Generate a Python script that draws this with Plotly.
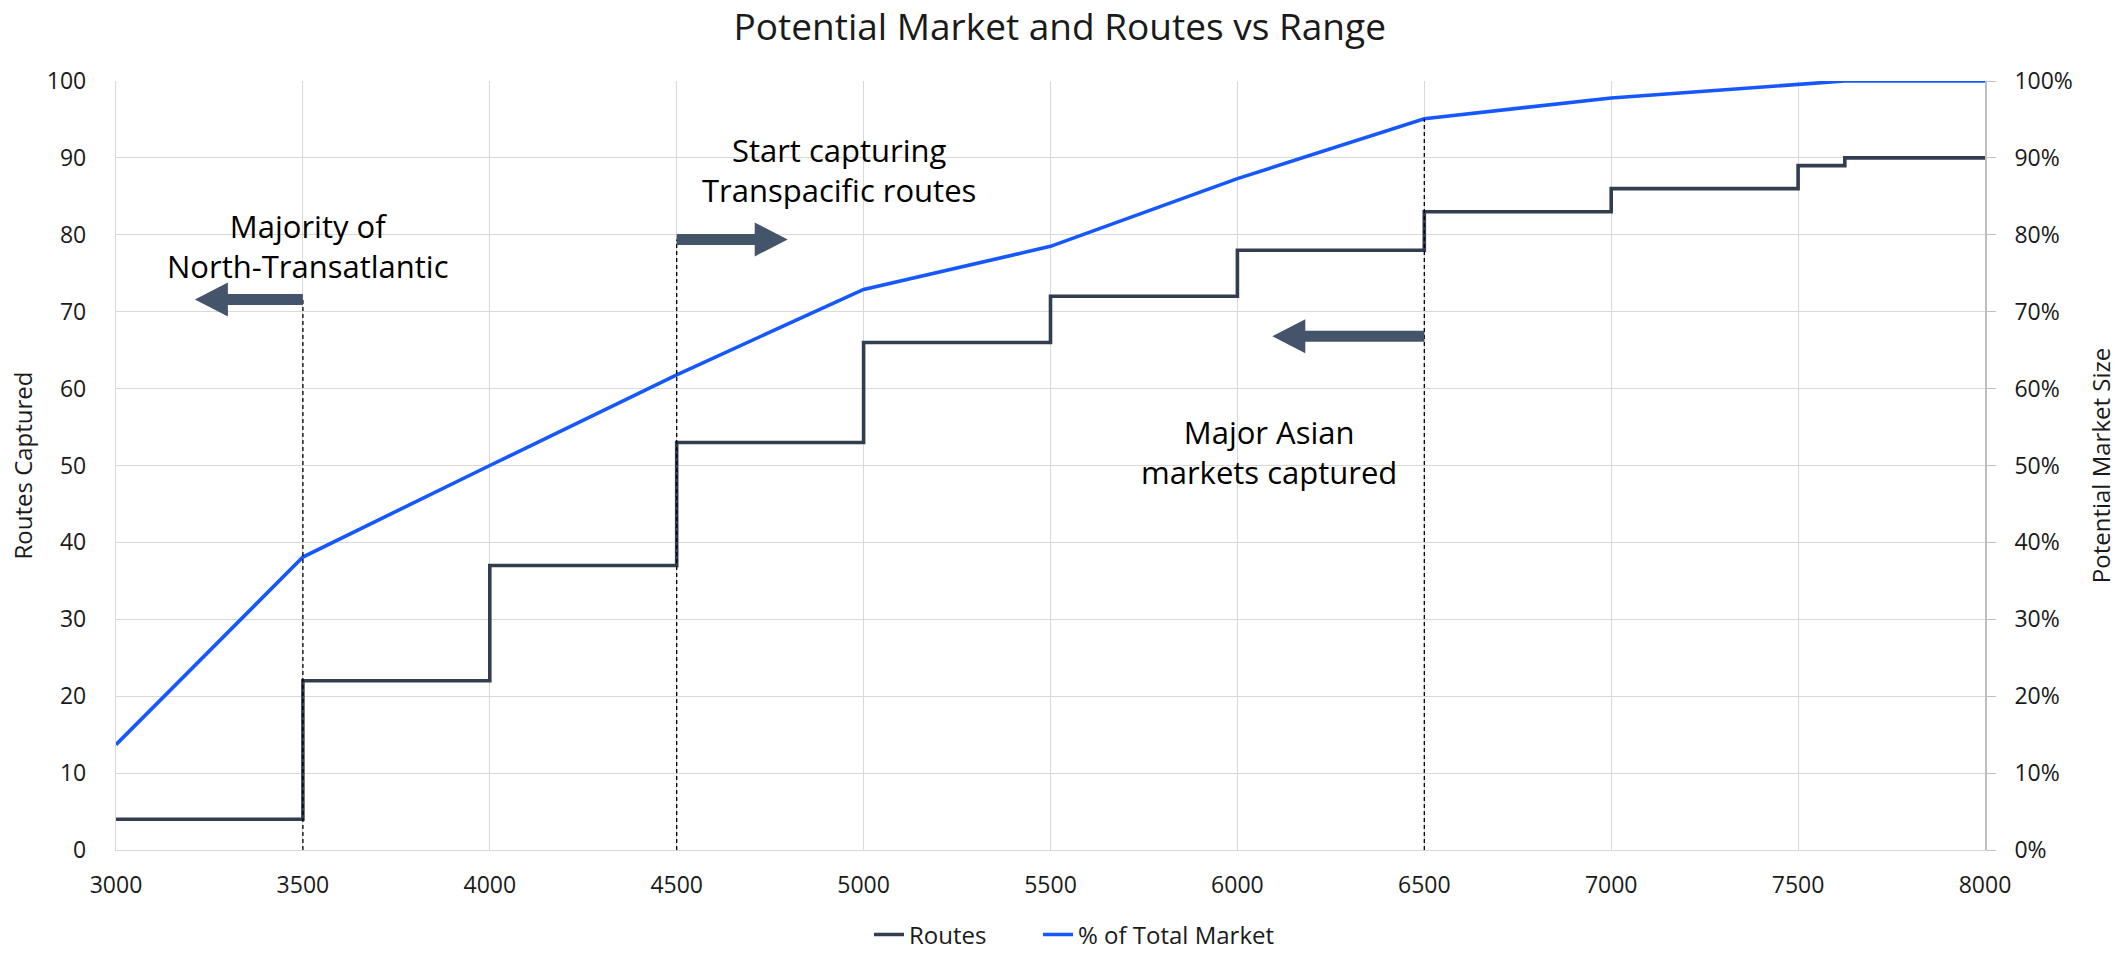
"""
Potential market and routes captured vs aircraft range.
"""
import plotly.graph_objects as go

# --- data ---
range_nm = [3000, 3500, 4000, 4500, 5000, 5500, 6000, 6500, 7000, 7500, 7625, 8000]
routes = [4, 22, 37, 53, 66, 72, 78, 83, 86, 89, 90, 90]
market_share = [0.137, 0.381, 0.50, 0.618, 0.729, 0.785, 0.873, 0.951, 0.978, 0.995, 1.0, 1.0]

callout_x = [3500, 4500, 6500]
callout_arrow_y = [71.6, 79.4, 66.8]
callout_direction = [-1, 1, -1]
callout_text = ["Majority of<br>North-Transatlantic",
                "Start capturing<br>Transpacific routes",
                "Major Asian<br>markets captured"]
callout_text_x = [3514, 4934, 6085]
callout_text_y = [78.6, 88.4, 51.8]

ROUTES_COLOR = '#323E4F'
MARKET_COLOR = '#1558FF'
ARROW_COLOR = '#44546A'
GRID_COLOR = '#D9D9D9'
FONT = 'Open Sans, Arial, sans-serif'


def arrow_path(length, direction, head=33, half_head=17, half_shaft=5.5):
    """Block arrow in pixels, anchored at the shaft end."""
    d = direction
    pts = [(0, -half_shaft), (d * (length - head), -half_shaft),
           (d * (length - head), -half_head), (d * length, 0),
           (d * (length - head), half_head), (d * (length - head), half_shaft),
           (0, half_shaft)]
    return 'M' + ' L'.join(f'{x},{y}' for x, y in pts) + ' Z'


fig = go.Figure()

fig.add_trace(go.Scatter(
    x=range_nm, y=routes, name='Routes', mode='lines',
    line=dict(color=ROUTES_COLOR, width=3.6, shape='hv'), legend='legend'
))

fig.add_trace(go.Scatter(
    x=range_nm, y=market_share, name='% of Total Market', mode='lines',
    line=dict(color=MARKET_COLOR, width=3.6), yaxis='y2', legend='legend2'
))

# dashed markers up to the arrows (last one runs up to the market curve)
tops = list(callout_arrow_y)
tops[2] = market_share[range_nm.index(6500)] * 100
for x, top in zip(callout_x, tops):
    fig.add_shape(type='line', xref='x', yref='y', x0=x, x1=x, y0=0, y1=top,
                  line=dict(color='#000000', width=1.3, dash='4px,3px'), layer='above')

lengths = [108, 111, 152]
for x, y, d, L in zip(callout_x, callout_arrow_y, callout_direction, lengths):
    fig.add_shape(type='path', xref='x', yref='y', xsizemode='pixel', ysizemode='pixel',
                  xanchor=x, yanchor=y, path=arrow_path(L, d),
                  fillcolor=ARROW_COLOR, line=dict(width=0), layer='above')

for tx, ty, txt in zip(callout_text_x, callout_text_y, callout_text):
    fig.add_annotation(x=tx, y=ty, xref='x', yref='y', text=txt, showarrow=False,
                       xanchor='center', yanchor='middle',
                       font=dict(family=FONT, size=31, color='#000000'))

legend_style = dict(orientation='h', xref='container', xanchor='left',
                    yref='container', y=0.019, yanchor='middle',
                    font=dict(size=24), bgcolor='rgba(0,0,0,0)')

fig.update_layout(
    width=2128, height=953,
    margin=dict(l=116, r=143, t=81, b=103),
    paper_bgcolor='white', plot_bgcolor='white',
    font=dict(family=FONT, size=23, color='#1a1a1a'),
    title=dict(text='Potential Market and Routes vs Range', xref='container', x=0.498,
               xanchor='center', yref='container', y=0.972, yanchor='middle',
               font=dict(size=37, color='#1a1a1a')),
    showlegend=True,
    legend=dict(legend_style, x=869 / 2128),
    legend2=dict(legend_style, x=1038 / 2128),
    xaxis=dict(range=[3000, 8000], dtick=500, showgrid=True, gridcolor=GRID_COLOR,
               gridwidth=1.4, showline=True, linecolor=GRID_COLOR, linewidth=1.4,
               zeroline=False, ticks='', ticklabelstandoff=14),
    yaxis=dict(range=[0, 100], dtick=10, showgrid=True, gridcolor=GRID_COLOR,
               gridwidth=1.4, showline=True, linecolor=GRID_COLOR, linewidth=1.4,
               zeroline=False, ticks='', ticklabelstandoff=24,
               title=dict(text='Routes Captured', standoff=7, font=dict(size=24))),
    yaxis2=dict(range=[0, 1], dtick=0.1, tickformat='.0%', overlaying='y', side='right',
                showgrid=False, zeroline=False, showline=True, linecolor='#BFBFBF',
                linewidth=1.6, ticks='outside', ticklen=9, tickcolor='#BFBFBF',
                tickwidth=1.4, ticklabelstandoff=14,
                title=dict(text='Potential Market Size', standoff=21, font=dict(size=24))),
)

fig.write_html("out.html", config={'displayModeBar': False},
               post_script="document.body.style.margin='0';")
